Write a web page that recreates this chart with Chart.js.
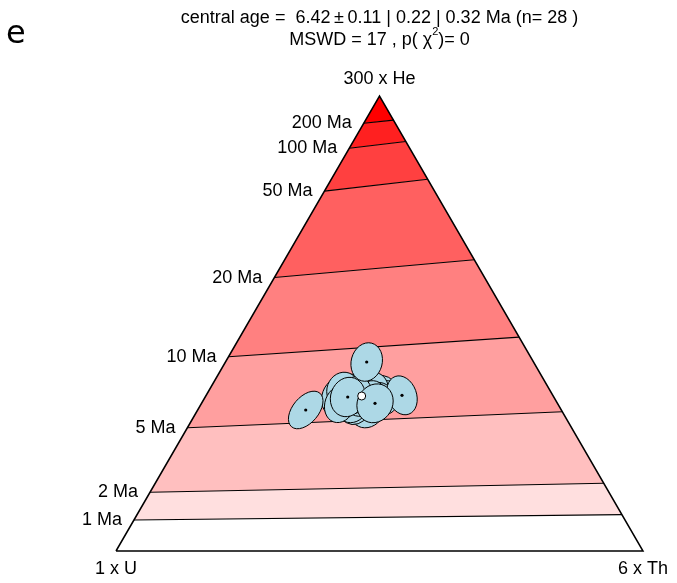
<!DOCTYPE html>
<html><head><meta charset="utf-8">
<script src="https://cdn.jsdelivr.net/npm/chart.js@4.4.1/dist/chart.umd.min.js"></script>
<style>html,body{margin:0;padding:0;background:#fff}canvas{display:block}</style>
</head><body>
<canvas id="c" width="677" height="583"></canvas>
<script>
// ---- data ----
const ageLabels = ['1 Ma','2 Ma','5 Ma','10 Ma','20 Ma','50 Ma','100 Ma','200 Ma'];
// helium fraction where each age contour meets the U-He edge and the Th-He edge
const heFracU  = [0.068, 0.129, 0.271, 0.427, 0.601, 0.791, 0.885, 0.940];
const heFracTh = [0.080, 0.149, 0.306, 0.470, 0.640, 0.817, 0.900, 0.947];
const bandColors = ['#ffffff','#ffdfdf','#ffbfbf','#ff9f9f','#ff8080','#ff6060','#ff4040','#ff2020','#ff0000'];
const vertexLabels = ['1 x U', '6 x Th', '300 x He'];

// grain error ellipses (ternary plot coordinates)
const grainX = [0.4630,0.4725,0.4820,0.4535,0.4858,0.4440,0.4668,0.4972,0.4345,0.4744,0.4213,0.5009,0.4782,0.4307,0.5104,0.4535,0.4858,0.4478,0.4668,0.4953,0.4250,0.4820,0.4535,0.3600,0.4757,0.5427,0.4397,0.4915];
const grainY = [0.2969,0.2874,0.3026,0.2836,0.2779,0.3026,0.2722,0.2950,0.2874,0.3045,0.2931,0.3026,0.2684,0.3064,0.2912,0.2722,0.3064,0.2779,0.2912,0.2874,0.2798,0.2912,0.2969,0.2684,0.3597,0.2963,0.2931,0.2811];
const grainSemiMajor = [0.0361,0.0342,0.0361,0.0342,0.0361,0.0342,0.0342,0.0342,0.0361,0.0342,0.0380,0.0323,0.0361,0.0342,0.0342,0.0323,0.0342,0.0342,0.0361,0.0342,0.0361,0.0342,0.0361,0.0417,0.0370,0.0380,0.0380,0.0380];
const grainSemiMinor = [0.0304,0.0304,0.0285,0.0285,0.0304,0.0304,0.0304,0.0285,0.0304,0.0285,0.0304,0.0285,0.0304,0.0304,0.0285,0.0285,0.0304,0.0304,0.0304,0.0304,0.0285,0.0285,0.0304,0.0247,0.0294,0.0275,0.0323,0.0332];
const grainAngle = [60,70,50,65,60,70,55,60,75,65,70,60,50,70,60,60,70,65,60,60,70,60,65,50,75,-70,70,60];
const centralAge = {x: 0.4662, y: 0.2950};

const titleLine1 = 'central age =  6.42\u2009\u00b1\u20090.11 | 0.22 | 0.32 Ma (n= 28 )';
const titleLine2a = 'MSWD = 17 , p( \u03c7';
const titleLine2sup = '2';
const titleLine2b = ')= 0';
const panelLetter = 'e';

// ---- geometry helpers ----
const H = Math.sqrt(3) / 2;
const leftPt  = f => ({x: 0.5 * f, y: H * f});
const rightPt = f => ({x: 1 - 0.5 * f, y: H * f});

const datasets = [];
// bands
const lowU  = [0].concat(heFracU),  highU  = heFracU.concat([1]);
const lowTh = [0].concat(heFracTh), highTh = heFracTh.concat([1]);
bandColors.forEach((col, i) => {
  datasets.push({
    data: [leftPt(lowU[i]), rightPt(lowTh[i]), rightPt(highTh[i]), leftPt(highU[i]), leftPt(lowU[i])],
    showLine: true, fill: 'shape', backgroundColor: col, borderWidth: 0,
    borderColor: 'rgba(0,0,0,0)', pointRadius: 0, clip: false, tension: 0
  });
});
// contour lines
heFracU.forEach((f, i) => {
  datasets.push({
    data: [leftPt(f), rightPt(heFracTh[i])],
    showLine: true, fill: false, borderColor: '#000', borderWidth: 1.1,
    pointRadius: 0, clip: false
  });
});
// triangle outline
datasets.push({
  data: [leftPt(0), rightPt(0), leftPt(1), leftPt(0)],
  showLine: true, fill: false, borderColor: '#000', borderWidth: 1.5,
  pointRadius: 0, clip: false, borderJoinStyle: 'miter'
});
// grains
grainX.forEach((x, i) => {
  datasets.push({
    grainIndex: i,
    data: [{x: x, y: grainY[i]}],
    showLine: false, pointRadius: 1.6, pointBackgroundColor: '#000',
    pointBorderWidth: 0, clip: false
  });
});
// central age
datasets.push({
  data: [centralAge], showLine: false, pointRadius: 4,
  pointBackgroundColor: '#fff', pointBorderColor: '#000', pointBorderWidth: 1, clip: false
});
// draw in the order built (later datasets on top)
datasets.forEach((d, i) => { d.order = datasets.length - i; });

const ellipsePlugin = {
  id: 'ellipses',
  beforeDatasetDraw(chart, args) {
    const ds = chart.data.datasets[args.index];
    if (ds.grainIndex === undefined) return;
    const i = ds.grainIndex;
    const xs = chart.scales.x, ys = chart.scales.y, ctx = chart.ctx;
    const cx = xs.getPixelForValue(grainX[i]), cy = ys.getPixelForValue(grainY[i]);
    const rx = Math.abs(xs.getPixelForValue(grainSemiMajor[i]) - xs.getPixelForValue(0));
    const ry = Math.abs(xs.getPixelForValue(grainSemiMinor[i]) - xs.getPixelForValue(0));
    ctx.save();
    ctx.beginPath();
    ctx.ellipse(cx, cy, rx, ry, -grainAngle[i] * Math.PI / 180, 0, 2 * Math.PI);
    ctx.fillStyle = '#add8e6';
    ctx.fill();
    ctx.lineWidth = 1;
    ctx.strokeStyle = '#000';
    ctx.stroke();
    ctx.restore();
  }
};

const FONT = '18px "Liberation Sans", Arial, sans-serif';
const textPlugin = {
  id: 'texts',
  afterDraw(chart) {
    const ctx = chart.ctx, xs = chart.scales.x, ys = chart.scales.y;
    const px = p => ({x: xs.getPixelForValue(p.x), y: ys.getPixelForValue(p.y)});
    ctx.save();
    ctx.fillStyle = '#000';
    ctx.font = FONT;
    ctx.textBaseline = 'middle';
    // age labels
    ctx.textAlign = 'right';
    heFracU.forEach((f, i) => {
      const p = px(leftPt(f));
      ctx.fillText(ageLabels[i], p.x - 12, p.y);
    });
    // vertex labels
    ctx.textAlign = 'center';
    const bl = px(leftPt(0)), br = px(rightPt(0)), ap = px(leftPt(1));
    ctx.fillText(vertexLabels[0], bl.x, bl.y + 18);
    ctx.fillText(vertexLabels[1], br.x, br.y + 18);
    ctx.fillText(vertexLabels[2], ap.x, ap.y - 17);
    // title
    const cxT = (bl.x + br.x) / 2;
    ctx.fillText(titleLine1, cxT, 18);
    ctx.textAlign = 'left';
    const wA = ctx.measureText(titleLine2a).width;
    ctx.font = '11px "Liberation Sans", Arial, sans-serif';
    const wS = ctx.measureText(titleLine2sup).width;
    ctx.font = FONT;
    const wB = ctx.measureText(titleLine2b).width;
    let x0 = cxT - (wA + wS + wB) / 2;
    ctx.fillText(titleLine2a, x0, 40);
    ctx.font = '11px "Liberation Sans", Arial, sans-serif';
    ctx.fillText(titleLine2sup, x0 + wA, 32);
    ctx.font = FONT;
    ctx.fillText(titleLine2b, x0 + wA + wS, 40);
    // panel letter
    ctx.font = '32px "DejaVu Sans", sans-serif';
    ctx.textBaseline = 'alphabetic';
    ctx.fillText(panelLetter, 6, 43);
    ctx.restore();
  }
};

new Chart(document.getElementById('c'), {
  type: 'scatter',
  data: {datasets: datasets},
  options: {
    responsive: false,
    animation: false,
    devicePixelRatio: 1,
    layout: {padding: {left: 116, right: 34, top: 96, bottom: 32}},
    plugins: {legend: {display: false}, tooltip: {enabled: false}, title: {display: false}},
    scales: {
      x: {type: 'linear', min: 0, max: 1, display: false},
      y: {type: 'linear', min: 0, max: H, display: false}
    },
    elements: {line: {tension: 0}}
  },
  plugins: [ellipsePlugin, textPlugin]
});
</script>
</body></html>
